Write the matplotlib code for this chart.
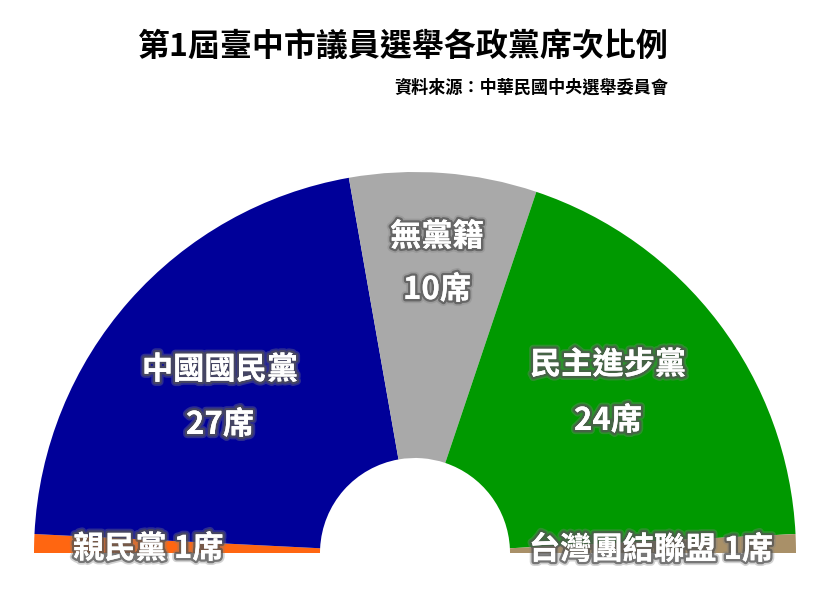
import matplotlib
matplotlib.use("Agg")
import matplotlib.pyplot as plt
import matplotlib.patheffects as pe

plt.rcParams['font.family'] = ['Noto Sans CJK TC', 'DejaVu Sans']

# Seats per party, left to right around the hemicycle
parties = ['親民黨', '中國國民黨', '無黨籍', '民主進步黨', '台灣團結聯盟']
seats = [1, 27, 10, 24, 1]
colors = ['#FF6611', '#000099', '#A9A9A9', '#009900', '#A99068']

title = '第1屆臺中市議員選舉各政黨席次比例'
source = '資料來源：中華民國中央選舉委員會'

W, H = 835, 600
fig = plt.figure(figsize=(W / 100, H / 100), dpi=100)
ax = fig.add_axes([0, 0, 1, 1])

cx, cy = 415, H - 553
r_out, r_in = 381, 95
total = sum(seats)

# Half pie: add an invisible wedge for the lower half
wedges, _ = ax.pie(seats + [total], radius=r_out, center=(cx, cy),
                   startangle=180, counterclock=False,
                   colors=colors + ['none'],
                   wedgeprops=dict(width=r_out - r_in, linewidth=0))
wedges[-1].set_visible(False)

ax.set_xlim(0, W)
ax.set_ylim(0, H)
ax.set_aspect('equal')
ax.axis('off')

glow = [pe.withStroke(linewidth=6, foreground='#808080', alpha=0.35),
        pe.withStroke(linewidth=3.5, foreground='#505050', alpha=0.7),
        pe.Normal()]

def label(x, y, s, size=22.5):
    ax.text(x, H - y, s, color='white', fontsize=size, fontweight='bold',
            ha='center', va='center', path_effects=glow)

label(220, 370, parties[1])
label(220, 425, f'{seats[1]}席')
label(437, 237, parties[2])
label(437, 290, f'{seats[2]}席')
label(608, 365, parties[3])
label(608, 421, f'{seats[3]}席')
ax.text(73, H - 549, f'{parties[0]} {seats[0]}席', color='white', fontsize=22.5,
        fontweight='bold', ha='left', va='center', path_effects=glow)
label(651, 550, f'{parties[4]} {seats[4]}席')

fig.text(403 / W, 1 - 47 / H, title, fontsize=23, fontweight='bold',
         ha='center', va='center', color='black')
fig.text(668 / W, 1 - 88 / H, source, fontsize=12.3, fontweight='bold',
         ha='right', va='center', color='black')

fig.savefig('out.png', dpi=100)
